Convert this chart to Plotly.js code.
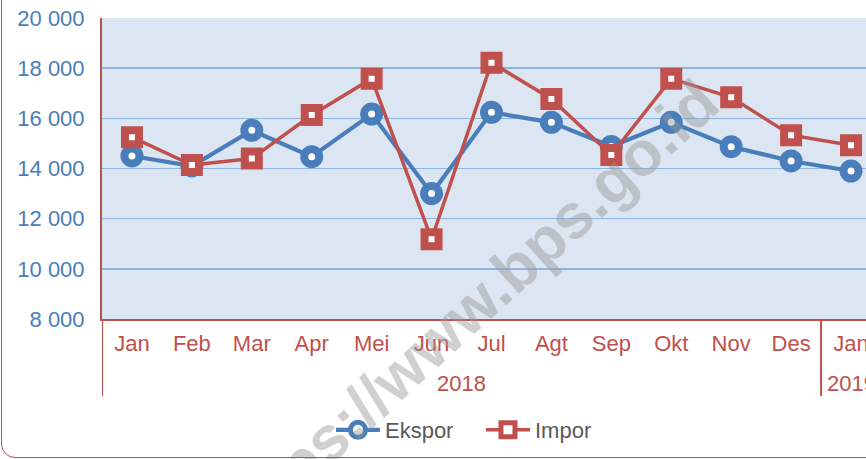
<!DOCTYPE html>
<html>
<head>
<meta charset="utf-8">
<script src="https://cdn.plot.ly/plotly-3.0.1.min.js"></script>
<style>
  html, body { margin:0; padding:0; background:#ffffff; overflow:hidden; width:866px; height:459px; }
  #chart { position:absolute; left:0; top:0; width:866px; height:459px; }
  #frame { position:absolute; left:1px; top:-40px; width:1000px; height:496px; border:1.5px solid #c0504d; border-radius:14px; pointer-events:none; box-sizing:content-box; }
</style>
</head>
<body>
<div id="chart"></div>
<div id="frame"></div>
<script>
// Data (million USD)
const years  = ['2018','2018','2018','2018','2018','2018','2018','2018','2018','2018','2018','2018','2019'];
const months = ['Jan','Feb','Mar','Apr','Mei','Jun','Jul','Agt','Sep','Okt','Nov','Des','Jan'];
const ekspor = [14500, 14100, 15520, 14470, 16170, 13000, 16240, 15840, 14880, 15840, 14870, 14300, 13900];
const impor  = [15250, 14140, 14400, 16130, 17580, 11180, 18220, 16770, 14540, 17580, 16840, 15330, 14930];
const seriesNames = ['Ekspor', 'Impor'];
const yTicks = [8000, 10000, 12000, 14000, 16000, 18000, 20000];
const watermark = 'https://www.bps.go.id';

const blue = '#4a7ebb';
const red = '#c0504d';
const FONT = '"Liberation Sans", Arial, sans-serif';

const idx = months.map((m, i) => i);

// year groups: centers and boundaries
const groups = [];
years.forEach((y, i) => {
  if (!groups.length || groups[groups.length - 1].year !== y) groups.push({ year: y, start: i, end: i });
  else groups[groups.length - 1].end = i;
});

const divBottom = -0.256;  // paper units below plot
const shapes = [];
groups.forEach(g => {
  shapes.push({ type: 'line', xref: 'x', yref: 'paper', x0: g.start - 0.5, x1: g.start - 0.5, y0: 0, y1: divBottom,
                line: { color: red, width: 2 } });
});
const annotations = groups.map(g => ({
  text: g.year, xref: 'x', yref: 'paper', x: (g.start + g.end) / 2, y: -0.213,
  xanchor: 'center', yanchor: 'middle', showarrow: false,
  font: { family: FONT, size: 22, color: red }
}));
annotations.push({
  text: watermark, xref: 'paper', yref: 'paper', x: 0.478, y: 0.025,
  xanchor: 'center', yanchor: 'middle', showarrow: false, textangle: -42.3,
  font: { family: FONT, size: 63, color: 'rgba(150,150,150,0.45)', weight: 'bold' }
});

const traces = [
  {
    type: 'scatter', mode: 'lines+markers', name: seriesNames[0],
    x: idx, y: ekspor,
    line: { color: blue, width: 4.2 },
    marker: { symbol: 'circle', size: 15, color: '#ffffff', line: { color: blue, width: 8 } },
    hoverinfo: 'skip'
  },
  {
    type: 'scatter', mode: 'lines+markers', name: seriesNames[1],
    x: idx, y: impor,
    line: { color: red, width: 3.5 },
    marker: { symbol: 'square', size: 14, color: '#ffffff', line: { color: red, width: 8 } },
    hoverinfo: 'skip'
  }
];

const layout = {
  width: 866, height: 459,
  margin: { l: 102, r: 0, t: 18, b: 140 },
  paper_bgcolor: 'rgba(0,0,0,0)',
  plot_bgcolor: '#dce6f2',
  separators: ', ',
  font: { family: FONT, size: 22, color: '#595959' },
  showlegend: true,
  legend: {
    orientation: 'h', x: 0.2997, xanchor: 'left', y: -0.369, yanchor: 'middle',
    font: { family: FONT, size: 22, color: '#595959' }, bgcolor: 'rgba(0,0,0,0)',
    itemwidth: 44, entrywidth: 91, entrywidthmode: 'pixels'
  },
  xaxis: {
    type: 'linear',
    range: [-0.5, 12.25],
    tickvals: idx, ticktext: months,
    showgrid: false,
    showline: true, linecolor: red, linewidth: 2,
    ticks: '', zeroline: false,
    tickfont: { family: FONT, size: 22, color: red },
    ticklabelstandoff: 4,
    ticklabeloverflow: 'allow',
    fixedrange: true
  },
  yaxis: {
    range: [8000, 20000],
    tickvals: yTicks,
    tickformat: ',d',
    showgrid: true, gridcolor: '#8eb4e3', gridwidth: 1.5,
    showline: true, linecolor: red, linewidth: 2,
    ticks: '', zeroline: false,
    tickfont: { family: FONT, size: 22, color: blue },
    ticklabelstandoff: 11,
    fixedrange: true
  },
  shapes: shapes,
  annotations: annotations
};

Plotly.newPlot('chart', traces, layout, { staticPlot: true, displayModeBar: false });
</script>
</body>
</html>
